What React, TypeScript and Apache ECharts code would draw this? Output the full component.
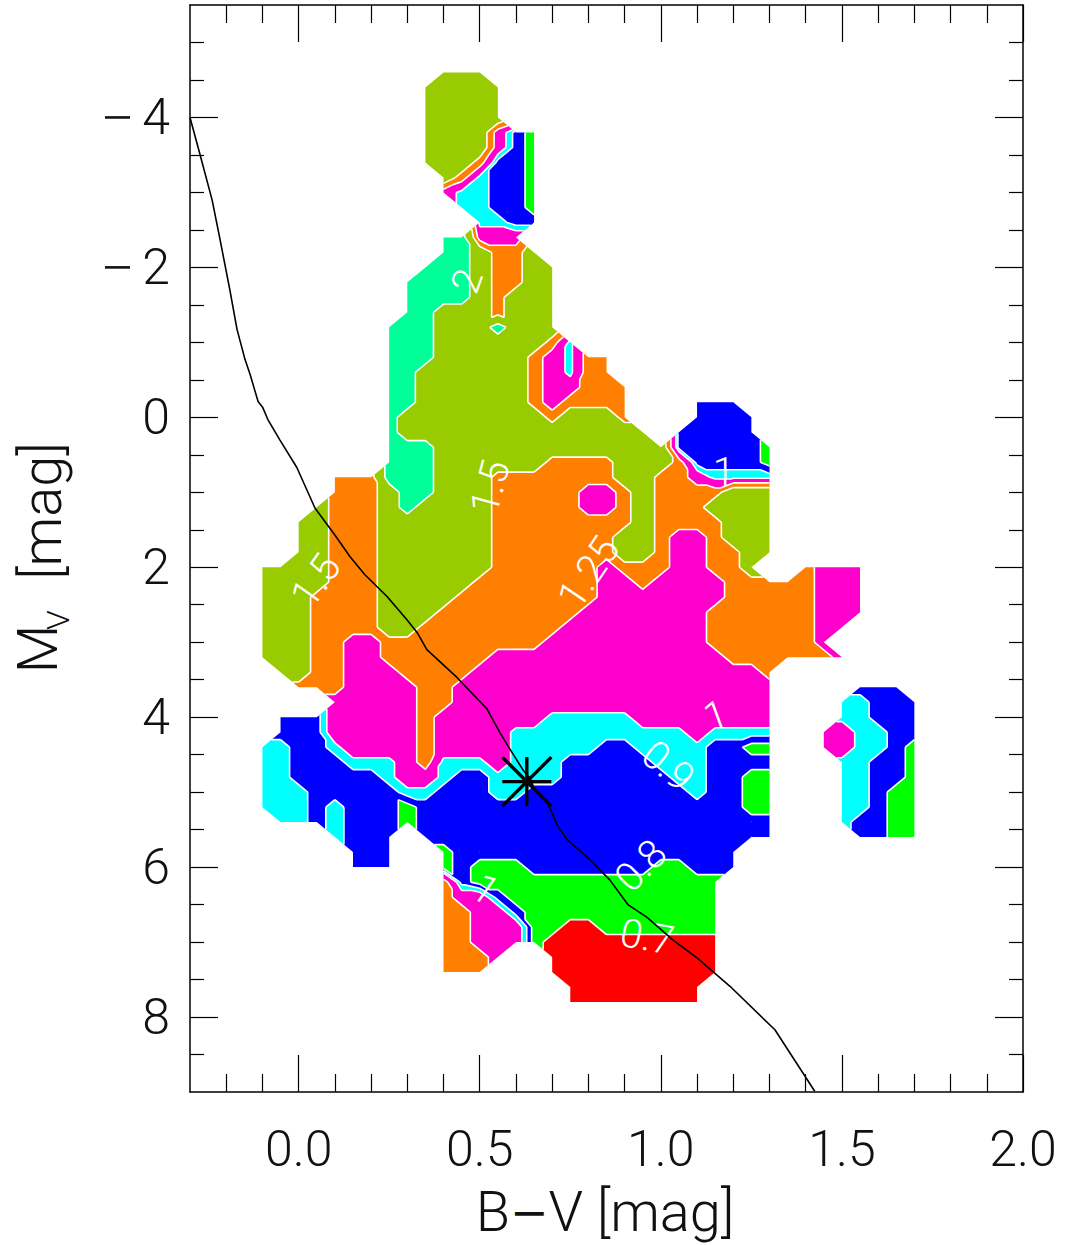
import React, { useEffect, useRef } from "react";
import * as echarts from "echarts";

// ---------------- data ----------------
// node grid of the filled contour map: column i -> B-V = gridBV0 + i*gridStepBV,
// row j -> M_V = gridMV0 + j*gridStepMV ; '.' = no data
const gridBV0 = -0.1;
const gridStepBV = 0.05;
const gridMV0 = -4.6;
const gridStepMV = 0.2;
const gridRows: string[] = [
  "..........YYY........................",
  ".........YYYYY.......................",
  ".........YYYYY.......................",
  ".........YYYYY.......................",
  ".........YYYYMBG.....................",
  ".........YYYYMBG.....................",
  ".........YYYOBBG.....................",
  "..........YOCBBG.....................",
  "..........MCCBBG.....................",
  "...........CCBBG.....................",
  "............CCBB.....................",
  "..........SSMMM......................",
  "..........SSYOOY.....................",
  ".........SSSYOOYY....................",
  "........SSSSYOOYY....................",
  "........SSSSYOYYY....................",
  "........SSYYYOYYY....................",
  ".......SSSYYYSYYY....................",
  ".......SSSYYYYYYOC...................",
  ".......SSSYYYYYOMCOO.................",
  ".......SSYYYYYYOMCOO.................",
  ".......SSYYYYYYOMMOOO................",
  ".......SSYYYYYYOMOOOO...BBB..........",
  ".......SYYYYYYYYOYYYO...BBBB.........",
  ".......SYYYYYYYYYYYYYY.BBBBB.........",
  ".......SSSYYYYYYYYYYYYYBBBBBG........",
  ".......SSSYYYYYYOOOOYYYOBBBBG........",
  "....OOOSSSYYYOOOOOOOYYOOMCCCC........",
  "....OOOYSSYYYOOOOOMMOYOOOOYYY........",
  "...YOOOYSYYYYOOOOOMMOYOOOYYYY........",
  "..YYOOOYYYYYYOOOOOOOOYOOOOYYY........",
  "..YYOOOYYYYYYOOOOOOOYYOMMOYYY........",
  "..YYOOOYYYYYYOOOOOOOYYOMMOOYY........",
  "YYYYOOOYYYYYYOOOOOOMOOOMMOOY..OMMM...",
  "YYYYOOOYYYYYOOOOOOOMMOMMMMOOOOOMMM...",
  "YYYOOOOYYYYOOOOOOOOMMMMMMMOOOOOMMM...",
  "YYYOOOOYYYOOOOOOOOMMMMMMMOOOOOOMMM...",
  "YYYOOOOYYOOOOOOOOMMMMMMMMOOOOOOMM....",
  "YYYOOMMOOOOOOOOOMMMMMMMMMOOOOOOM.....",
  "YYYOOMMOOOOOOMMMMMMMMMMMMMOOOOOOM....",
  ".YYOOMMMOOOOMMMMMMMMMMMMMMMMO........",
  "..OOOMMMMOOMMMMMMMMMMMMMMMMMM....BBB.",
  "....MMMMMOOMMMMMMMMMMMMMMMMMM...CCBBB",
  ".BBBMMMMMOMMMMMMCCCCCMMMMMMMM...CCBBB",
  ".BBBMMMMMOMMMMCCCCCCCCCCMCCCC..MMCCBB",
  "CCBBCMMMMOMMMMCCCCCBBCCCCBBGG..MMCCBG",
  "CCBBBCCCMOCCCMCCCBBBBBCCCBBBB...CCBBG",
  "CCBBBBBCMMCBBCCCCBBBBBBCCBBGG...CCBBG",
  "CCCBBBBBCCBBBCCBBBBBBBBBCBBGG...CCBGG",
  "CCCBCBBBGBBBBBBBBBBBBBBBBBBGG...CCBGG",
  ".CCBCBBBGBBBBBBBBBBBBBBBBBBBB...CBBGG",
  "....CBBB.BBBBBBBBBBBBBBBBBBBB....BBGG",
  ".....BBB..GBBBBBBBBBBBBBBBB..........",
  ".....BBB..GBGGGBBBBBBBGGBBB..........",
  "..........OBGGGGGGGGGGGGGG...........",
  "..........OMMBGGGGGGGGGGGG...........",
  "..........OOMMBGGGGGGGGGGG...........",
  "..........OOMMMGGRRGGGGGGG...........",
  "..........OOMMMGRRRRRRRRRR...........",
  "..........OOOM..RRRRRRRRRR...........",
  "..........OOO...RRRRRRRRRR...........",
  ".................RRRRRRRR............",
  ".................RRRRRRRR............",
];
const classCodes = ["R", "G", "B", "C", "M", "O", "Y", "S"];
const classValues = [0.65, 0.75, 0.85, 0.95, 1.12, 1.37, 1.75, 2.2];
const contourLevels = [0.7, 0.8, 0.9, 1.0, 1.25, 1.5, 2.0];
const bandColors = ["#ff0000", "#00ff00", "#0000ff", "#00ffff", "#ff00cc", "#ff8000", "#99cc00", "#00ff99"];

// black sequence line
const isoBV = [-0.3, -0.272, -0.239, -0.217, -0.19, -0.17, -0.148, -0.134, -0.112, -0.099, -0.085, -0.052, -0.005, 0.045, 0.1, 0.142, 0.183, 0.244, 0.299, 0.327, 0.354, 0.437, 0.52, 0.556, 0.589, 0.619, 0.638, 0.652, 0.686, 0.716, 0.741, 0.804, 0.859, 0.909, 0.962, 1.033, 1.1, 1.191, 1.315, 1.425];
const isoMV = [-4.0, -3.5, -2.9, -2.37, -1.7, -1.17, -0.77, -0.57, -0.21, -0.13, 0.03, 0.3, 0.67, 1.21, 1.57, 1.86, 2.1, 2.39, 2.7, 2.87, 3.1, 3.47, 3.89, 4.21, 4.47, 4.7, 4.81, 4.97, 5.13, 5.46, 5.63, 5.9, 6.17, 6.5, 6.67, 6.97, 7.21, 7.59, 8.17, 8.99];

// Sun marker
const sunBV = [0.63];
const sunMV = [4.86];

// contour labels
const labelTexts = ["2", "1.5", "1.5", "1.25", "1", "1", "0.9", "0.8", "0.7", "1"];
const labelBV = [0.465, 0.529, 0.048, 0.801, 1.174, 1.152, 1.02, 0.945, 0.962, 0.515];
const labelMV = [-1.82, 0.93, 2.18, 2.07, 0.74, 3.98, 4.65, 5.98, 6.93, 6.3];
const labelAngle = [70, 75, 55, 56, 0, 20, -40, 45, -10, -35];

// axis ticks
const xMajorTicks = [0, 0.5, 1, 1.5, 2];
const xMinorTicks = [-0.2, -0.1, 0.1, 0.2, 0.3, 0.4, 0.6, 0.7, 0.8, 0.9, 1.1, 1.2, 1.3, 1.4, 1.6, 1.7, 1.8, 1.9];
const yMajorTicks = [-4, -2, 0, 2, 4, 6, 8];
const yMinorTicks = [-5, -4.5, -3.5, -3, -2.5, -1.5, -1, -0.5, 0.5, 1, 1.5, 2.5, 3, 3.5, 4.5, 5, 5.5, 6.5, 7, 7.5, 8.5];

// ---------------- helpers ----------------
const FONT_FAMILY = 'Roboto, "DejaVu Sans", sans-serif';
const MINUS_FAMILY = '"DejaVu Sans", sans-serif';
const X_MIN = -0.3;

const MultiPoly = (echarts.graphic as any).extendShape({
  type: "multipoly",
  shape: { polys: [] },
  buildPath(ctx: any, shape: any) {
    const polys = shape.polys || [];
    for (let p = 0; p < polys.length; p++) {
      const poly = polys[p];
      if (!poly || poly.length < 2) continue;
      ctx.moveTo(poly[0][0], poly[0][1]);
      for (let k = 1; k < poly.length; k++) ctx.lineTo(poly[k][0], poly[k][1]);
      if (poly.length > 2) ctx.closePath();
    }
  },
});
(echarts.graphic as any).registerShape("multipoly", MultiPoly);

type V3 = [number, number, number];

function clipPoly(poly: V3[], level: number, keepAbove: boolean): V3[] {
  const out: V3[] = [];
  const n = poly.length;
  for (let k = 0; k < n; k++) {
    const a = poly[k];
    const b = poly[(k + 1) % n];
    const ina = keepAbove ? a[2] >= level : a[2] <= level;
    const inb = keepAbove ? b[2] >= level : b[2] <= level;
    if (ina) out.push(a);
    if (ina !== inb) {
      const t = (level - a[2]) / (b[2] - a[2]);
      out.push([a[0] + t * (b[0] - a[0]), a[1] + t * (b[1] - a[1]), level]);
    }
  }
  return out;
}

function renderContours(params: any, api: any) {
  const nRows = gridRows.length;
  const nCols = 37;
  const cache: (V3 | null)[][] = [];
  for (let j = 0; j < nRows; j++) {
    const row: (V3 | null)[] = [];
    for (let i = 0; i < nCols; i++) {
      const ch = gridRows[j][i];
      const idx = classCodes.indexOf(ch);
      if (idx < 0) {
        row.push(null);
      } else {
        const p = api.coord([gridBV0 + i * gridStepBV, gridMV0 + j * gridStepMV]);
        row.push([p[0], p[1], classValues[idx]]);
      }
    }
    cache.push(row);
  }
  const bands: number[][][][] = bandColors.map(() => []);
  const segs: number[][][] = [];
  for (let j = 0; j < nRows - 1; j++) {
    for (let i = 0; i < nCols - 1; i++) {
      const a = cache[j][i];
      const b = cache[j][i + 1];
      const c = cache[j + 1][i + 1];
      const d = cache[j + 1][i];
      const pres = [a, b, c, d].filter((q) => q) as V3[];
      const tris: V3[][] = [];
      if (pres.length === 4) {
        if (Math.abs(a![2] - c![2]) <= Math.abs(b![2] - d![2])) {
          tris.push([a!, b!, c!], [a!, c!, d!]);
        } else {
          tris.push([a!, b!, d!], [b!, c!, d!]);
        }
      } else if (pres.length === 3) {
        tris.push(pres);
      }
      for (let tri of tris) {
        const area = (tri[1][0] - tri[0][0]) * (tri[2][1] - tri[0][1]) - (tri[2][0] - tri[0][0]) * (tri[1][1] - tri[0][1]);
        if (area < 0) tri = [tri[0], tri[2], tri[1]];
        for (let k = 0; k < bandColors.length; k++) {
          let poly: V3[] = tri;
          if (k > 0) poly = clipPoly(poly, contourLevels[k - 1], true);
          if (poly.length < 3) continue;
          if (k < contourLevels.length) poly = clipPoly(poly, contourLevels[k], false);
          if (poly.length < 3) continue;
          bands[k].push(poly.map((q) => [q[0], q[1]]));
        }
        for (const L of contourLevels) {
          const pts: number[][] = [];
          for (let e = 0; e < 3; e++) {
            const p = tri[e];
            const q = tri[(e + 1) % 3];
            if ((p[2] - L) * (q[2] - L) < 0) {
              const t = (L - p[2]) / (q[2] - p[2]);
              pts.push([p[0] + t * (q[0] - p[0]), p[1] + t * (q[1] - p[1])]);
            }
          }
          if (pts.length === 2) segs.push(pts);
        }
      }
    }
  }
  const children: any[] = [];
  bands.forEach((polys, k) => {
    children.push({
      type: "multipoly",
      shape: { polys },
      style: { fill: bandColors[k], stroke: null, lineWidth: 0 },
    });
  });
  children.push({
    type: "multipoly",
    shape: { polys: segs },
    style: { fill: "none", stroke: "#ffffff", lineWidth: 1.6 },
  });
  labelTexts.forEach((t, k) => {
    const p = api.coord([labelBV[k], labelMV[k]]);
    children.push({
      type: "text",
      x: p[0],
      y: p[1],
      rotation: (labelAngle[k] * Math.PI) / 180,
      style: {
        text: t,
        fill: "#ffffff",
        font: `300 40px ${FONT_FAMILY}`,
        align: "center",
        verticalAlign: "middle",
      },
    });
  });
  return { type: "group", children };
}

function renderSun(params: any, api: any) {
  const c = api.coord([api.value(0), api.value(1)]);
  const h = 24.5;
  const segs = [
    [c[0], c[1] - h, c[0], c[1] + h],
    [c[0] - h, c[1], c[0] + h, c[1]],
    [c[0] - h, c[1] - h, c[0] + h, c[1] + h],
    [c[0] + h, c[1] - h, c[0] - h, c[1] + h],
  ];
  return {
    type: "group",
    children: segs.map((s) => ({
      type: "line",
      shape: { x1: s[0], y1: s[1], x2: s[2], y2: s[3] },
      style: { stroke: "#000", lineWidth: 3.4 },
    })),
  };
}

// y tick labels drawn next to the left axis; the minus sign is a long thin bar
function renderYLabel(params: any, api: any) {
  const v = api.value(1);
  const p = api.coord([X_MIN, v]);
  const right = p[0] - 20;
  const children: any[] = [
    {
      type: "text",
      x: right,
      y: p[1],
      style: {
        text: String(Math.abs(v)),
        font: `300 50px ${FONT_FAMILY}`,
        fill: "#111",
        align: "right",
        verticalAlign: "middle",
      },
    },
  ];
  if (v < 0) {
    children.push({
      type: "line",
      shape: { x1: right - 65, y1: p[1], x2: right - 40, y2: p[1] },
      style: { stroke: "#111", lineWidth: 2.6 },
    });
  }
  return { type: "group", children };
}

const tickFont = { fontFamily: FONT_FAMILY, fontWeight: 300 as any, fontSize: 50, color: "#111" };

function lineDef(withLine: boolean) {
  return withLine
    ? { show: true, onZero: false, lineStyle: { color: "#000", width: 1.5 } }
    : { show: false, onZero: false };
}

function xAxisDef(position: string, ticks: number[], len: number, withLine: boolean, withLabels: boolean) {
  return {
    type: "value",
    position,
    min: X_MIN,
    max: 2.0,
    axisLine: lineDef(withLine),
    axisTick: { show: true, inside: true, length: len, customValues: ticks, lineStyle: { color: "#000", width: 1.2 } },
    axisLabel: withLabels
      ? { show: true, customValues: ticks, margin: 32, formatter: (v: number) => v.toFixed(1), ...tickFont }
      : { show: false, customValues: ticks },
    splitLine: { show: false },
  };
}

function yAxisDef(position: string, ticks: number[], len: number, withLine: boolean) {
  return {
    type: "value",
    position,
    inverse: true,
    min: -5.5,
    max: 9,
    axisLine: lineDef(withLine),
    axisTick: { show: true, inside: true, length: len, customValues: ticks, lineStyle: { color: "#000", width: 1.2 } },
    axisLabel: { show: false, customValues: ticks },
    splitLine: { show: false },
  };
}

export default function App() {
  const ref = useRef<HTMLDivElement>(null);
  useEffect(() => {
    if (!ref.current) return;
    const chart = echarts.init(ref.current, undefined, { renderer: "svg" });
    const titleFont = `300 56px ${FONT_FAMILY}`;
    const option: any = {
      animation: false,
      backgroundColor: "#ffffff",
      grid: { left: 190, top: 5, width: 833, height: 1087 },
      xAxis: [
        xAxisDef("bottom", xMajorTicks, 37, true, true),
        xAxisDef("bottom", xMinorTicks, 18, false, false),
        xAxisDef("top", xMajorTicks, 37, true, false),
        xAxisDef("top", xMinorTicks, 18, false, false),
      ],
      yAxis: [
        yAxisDef("left", yMajorTicks, 28, true),
        yAxisDef("left", yMinorTicks, 14, false),
        yAxisDef("right", yMajorTicks, 28, true),
        yAxisDef("right", yMinorTicks, 14, false),
      ],
      graphic: [
        {
          type: "text",
          x: 605,
          y: 1212,
          style: {
            text: "{a|B}{m|\u2212}{a|V [mag]}",
            rich: {
              a: { font: titleFont, fill: "#111" },
              m: { font: `normal 46px ${MINUS_FAMILY}`, fill: "#111" },
            },
            fill: "#111",
            align: "center",
            verticalAlign: "middle",
          },
        },
        {
          type: "text",
          x: 38,
          y: 649,
          rotation: Math.PI / 2,
          style: { text: "M", font: titleFont, fill: "#111", align: "center", verticalAlign: "middle" },
        },
        {
          type: "text",
          x: 58,
          y: 620,
          rotation: Math.PI / 2,
          style: { text: "V", font: `300 32px ${FONT_FAMILY}`, fill: "#111", align: "center", verticalAlign: "middle" },
        },
        {
          type: "text",
          x: 42,
          y: 511,
          rotation: Math.PI / 2,
          style: { text: "[mag]", font: titleFont, fill: "#111", align: "center", verticalAlign: "middle" },
        },
      ],
      series: [
        {
          type: "custom",
          xAxisIndex: 0,
          yAxisIndex: 0,
          silent: true,
          z: 2,
          data: [[0, 0]],
          renderItem: renderContours,
        },
        {
          type: "line",
          xAxisIndex: 0,
          yAxisIndex: 0,
          silent: true,
          z: 5,
          showSymbol: false,
          symbol: "none",
          lineStyle: { color: "#000", width: 1.6 },
          data: isoBV.map((x, k) => [x, isoMV[k]]),
        },
        {
          type: "custom",
          xAxisIndex: 0,
          yAxisIndex: 0,
          silent: true,
          z: 6,
          data: sunBV.map((x, k) => [x, sunMV[k]]),
          renderItem: renderSun,
        },
        {
          type: "custom",
          xAxisIndex: 0,
          yAxisIndex: 0,
          silent: true,
          clip: false,
          z: 6,
          data: yMajorTicks.map((v) => [X_MIN, v]),
          renderItem: renderYLabel,
        },
      ],
    };
    chart.setOption(option);
    return () => chart.dispose();
  }, []);
  return (
    <div
      ref={ref}
      style={{ position: "absolute", left: 0, top: 0, width: 1067, height: 1245, background: "#fff" }}
    />
  );
}
